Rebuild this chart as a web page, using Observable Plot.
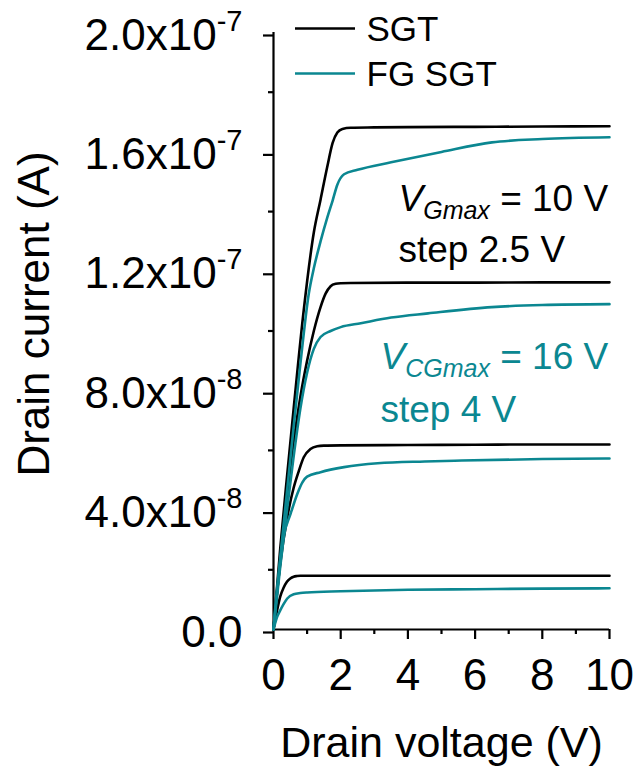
<!DOCTYPE html>
<html><head><meta charset="utf-8">
<script src="https://cdn.jsdelivr.net/npm/d3@7"></script>
<script src="https://cdn.jsdelivr.net/npm/@observablehq/plot@0.6"></script>
<style>html,body{margin:0;padding:0;background:#fff;overflow:hidden}</style>
</head><body><div id="chart"></div>
<script>
// ---------- data ----------
const devices = ["SGT", "FG SGT"];
const deviceColors = ["#000000", "#0b8791"];

// SGT, V_G = 10, 7.5, 5, 2.5 V
const sgt10Vd = [0, 0.2, 0.4, 0.6, 0.9, 1.2, 1.4, 1.6, 1.76, 1.9, 2.05, 2.3, 3, 4, 6, 8, 10];
const sgt10Id = [0, 0.27e-7, 0.51e-7, 0.74e-7, 1.07e-7, 1.33e-7, 1.44e-7, 1.55e-7, 1.63e-7, 1.665e-7, 1.677e-7, 1.681e-7, 1.682e-7, 1.683e-7, 1.684e-7, 1.685e-7, 1.686e-7];
const sgt75Vd = [0, 0.2, 0.4, 0.6, 0.8, 1.0, 1.2, 1.4, 1.55, 1.7, 1.85, 2.0, 2.3, 4, 6, 8, 10];
const sgt75Id = [0, 0.23e-7, 0.44e-7, 0.63e-7, 0.78e-7, 0.90e-7, 1.0e-7, 1.08e-7, 1.125e-7, 1.15e-7, 1.158e-7, 1.16e-7, 1.161e-7, 1.162e-7, 1.162e-7, 1.163e-7, 1.163e-7];
const sgt5Vd = [0, 0.1, 0.2, 0.4, 0.6, 0.75, 0.9, 1.1, 1.3, 1.5, 2, 4, 6, 8, 10];
const sgt5Id = [0, 0.12e-7, 0.22e-7, 0.37e-7, 0.475e-7, 0.53e-7, 0.577e-7, 0.605e-7, 0.614e-7, 0.616e-7, 0.617e-7, 0.618e-7, 0.619e-7, 0.62e-7, 0.62e-7];
const sgt25Vd = [0, 0.1, 0.2, 0.3, 0.4, 0.5, 0.6, 0.7, 0.8, 1, 2, 4, 6, 8, 10];
const sgt25Id = [0, 0.06e-7, 0.11e-7, 0.14e-7, 0.16e-7, 0.171e-7, 0.177e-7, 0.179e-7, 0.18e-7, 0.18e-7, 0.18e-7, 0.18e-7, 0.18e-7, 0.18e-7, 0.18e-7];

// FG SGT, V_CG = 16, 12, 8, 4 V
const fg16Vd = [0, 0.2, 0.4, 0.6, 0.8, 1.05, 1.2, 1.4, 1.6, 1.76, 1.9, 2.1, 2.5, 3.5, 5, 6.5, 8, 10];
const fg16Id = [0, 0.24e-7, 0.46e-7, 0.68e-7, 0.89e-7, 1.125e-7, 1.21e-7, 1.30e-7, 1.38e-7, 1.437e-7, 1.49e-7, 1.525e-7, 1.54e-7, 1.565e-7, 1.60e-7, 1.632e-7, 1.643e-7, 1.649e-7];
const fg12Vd = [0, 0.2, 0.4, 0.6, 0.8, 1.0, 1.2, 1.4, 1.7, 2.0, 2.6, 3.5, 4.6, 6.5, 8, 10];
const fg12Id = [0, 0.21e-7, 0.40e-7, 0.58e-7, 0.74e-7, 0.86e-7, 0.94e-7, 0.98e-7, 1.0e-7, 1.013e-7, 1.026e-7, 1.045e-7, 1.059e-7, 1.08e-7, 1.087e-7, 1.09e-7];
const fg8Vd = [0, 0.1, 0.2, 0.3, 0.51, 0.71, 0.86, 1.0, 1.4, 2.1, 3.1, 4.5, 5.6, 8, 10];
const fg8Id = [0, 0.13e-7, 0.23e-7, 0.31e-7, 0.388e-7, 0.455e-7, 0.493e-7, 0.512e-7, 0.527e-7, 0.544e-7, 0.557e-7, 0.563e-7, 0.566e-7, 0.571e-7, 0.573e-7];
const fg4Vd = [0, 0.1, 0.2, 0.3, 0.41, 0.6, 0.8, 1.0, 2.0, 4.0, 6, 8, 10];
const fg4Id = [0, 0.04e-7, 0.064e-7, 0.085e-7, 0.104e-7, 0.118e-7, 0.122e-7, 0.124e-7, 0.128e-7, 0.133e-7, 0.135e-7, 0.137e-7, 0.138e-7];

// axes
const xTicks = [0, 2, 4, 6, 8, 10];
const xMinor = [1, 3, 5, 7, 9];
const yTicks = [0, 4e-8, 8e-8, 1.2e-7, 1.6e-7, 2e-7];
const yTickMantissa = ["0.0", "4.0x10", "8.0x10", "1.2x10", "1.6x10", "2.0x10"];
const yTickExponent = ["", "-8", "-8", "-7", "-7", "-7"];
const yMinor = [2e-8, 6e-8, 1e-7, 1.4e-7, 1.8e-7];
const xTitle = "Drain voltage (V)";
const yTitle = "Drain current (A)";

// ---------- build table ----------
const curves = [
  {device: "SGT", gate: "10", vd: sgt10Vd, id: sgt10Id},
  {device: "SGT", gate: "7.5", vd: sgt75Vd, id: sgt75Id},
  {device: "SGT", gate: "5", vd: sgt5Vd, id: sgt5Id},
  {device: "SGT", gate: "2.5", vd: sgt25Vd, id: sgt25Id},
  {device: "FG SGT", gate: "16", vd: fg16Vd, id: fg16Id},
  {device: "FG SGT", gate: "12", vd: fg12Vd, id: fg12Id},
  {device: "FG SGT", gate: "8", vd: fg8Vd, id: fg8Id},
  {device: "FG SGT", gate: "4", vd: fg4Vd, id: fg4Id}
];
const rows = curves.flatMap(c => c.vd.map((v, i) => ({device: c.device, curve: c.device + " " + c.gate, vd: v, id: c.id[i]})));

// ---------- layout ----------
const W = 636, H = 768, mL = 273, mR = 27, mT = 32, mB = 139;
const xDomain = [0, 10], yDomain = [0, 2e-7];
const xOf = px => (px - mL) / (W - mL - mR) * (xDomain[1] - xDomain[0]);
const yOf = py => (H - mB - py) / (H - mB - mT) * yDomain[1];
const teal = deviceColors[1];
const font = "'Liberation Sans', Arial, Helvetica, sans-serif";
const fmtY = d => {
  const i = yTicks.findIndex(t => Math.abs(t - d) < 1e-12);
  return i < 0 ? "" : yTickMantissa[i] + (yTickExponent[i] ? "^" + yTickExponent[i] : "");
};

const plot = Plot.plot({
  width: W, height: H,
  marginLeft: mL, marginRight: mR, marginTop: mT, marginBottom: mB,
  style: {fontFamily: font, background: "white", overflow: "visible"},
  x: {domain: xDomain},
  y: {domain: yDomain},
  color: {domain: devices, range: deviceColors},
  marks: [
    Plot.axisY({ticks: yTicks, tickSize: 10, tickPadding: 21, strokeWidth: 2.2, fontSize: 44, dy: 3, tickFormat: fmtY, label: null}),
    Plot.axisY({ticks: yMinor, tickSize: 5, strokeWidth: 2.2, fill: "none", label: null}),
    Plot.axisX({ticks: xTicks, tickSize: 10, tickPadding: 19, strokeWidth: 2.2, fontSize: 44, tickFormat: d => String(d), label: null}),
    Plot.axisX({ticks: xMinor, tickSize: 5, strokeWidth: 2.2, fill: "none", label: null}),
    Plot.ruleX([0], {strokeWidth: 2.2}),
    Plot.ruleY([0], {strokeWidth: 2.2}),
    Plot.line(rows, {x: "vd", y: "id", z: "curve", stroke: "device", strokeWidth: 2.6, curve: "monotone-x"}),
    // legend
    Plot.ruleY(devices, {y: (d, i) => yOf(28 + i * 45), x1: () => xOf(295), x2: () => xOf(355), stroke: d => d, strokeWidth: 2.6}),
    Plot.text(devices, {y: (d, i) => yOf(40 + i * 45.5), x: () => xOf(366), text: d => d, textAnchor: "start", lineAnchor: "bottom", fontSize: 35, fill: "black"}),
    // annotations
    Plot.text(["VGmax = 10 V"], {x: xOf(398), y: yOf(210), textAnchor: "start", lineAnchor: "bottom", fontSize: 37, fill: "black"}),
    Plot.text(["step 2.5 V"], {x: xOf(398), y: yOf(261), textAnchor: "start", lineAnchor: "bottom", fontSize: 37, fill: "black"}),
    Plot.text(["VCGmax = 16 V"], {x: xOf(380), y: yOf(368), textAnchor: "start", lineAnchor: "bottom", fontSize: 37, fill: teal}),
    Plot.text(["step 4 V"], {x: xOf(380), y: yOf(421), textAnchor: "start", lineAnchor: "bottom", fontSize: 37, fill: teal}),
    // axis titles
    Plot.text([xTitle], {frameAnchor: "bottom", dy: 127, textAnchor: "middle", lineAnchor: "bottom", fontSize: 43, fill: "black"}),
    Plot.text([yTitle], {frameAnchor: "left", dx: 48 - mL, dy: -17, rotate: -90, textAnchor: "middle", lineAnchor: "bottom", fontSize: 44, fill: "black"})
  ]
});

// ---------- rich text (superscripts / subscripts) ----------
const NS = "http://www.w3.org/2000/svg";
function tspan(parent, txt, attrs) {
  const t = document.createElementNS(NS, "tspan");
  t.textContent = txt;
  for (const k in attrs) t.setAttribute(k, attrs[k]);
  parent.appendChild(t);
}
const rich = {
  "VGmax = 10 V": [["V", "i"], ["Gmax", "is"], [" = 10 V", ""]],
  "VCGmax = 16 V": [["V", "i"], ["CGmax", "is"], [" = 16 V", ""]]
};
plot.querySelectorAll("text").forEach(t => {
  const s = t.textContent;
  const m = s.match(/^(.*)\^(.*)$/);
  if (m) {
    t.textContent = "";
    tspan(t, m[1], {});
    tspan(t, m[2], {"font-size": 29, "dy": -19});
  } else if (rich[s]) {
    t.textContent = "";
    let shifted = false;
    for (const [txt, style] of rich[s]) {
      const a = {};
      if (style.includes("i")) a["font-style"] = "italic";
      if (style.includes("s")) { a["font-size"] = 25; a["dy"] = 8; shifted = true; }
      else if (shifted) { a["dy"] = -8; shifted = false; }
      tspan(t, txt, a);
    }
  }
});
document.getElementById("chart").appendChild(plot);
</script></body></html>
